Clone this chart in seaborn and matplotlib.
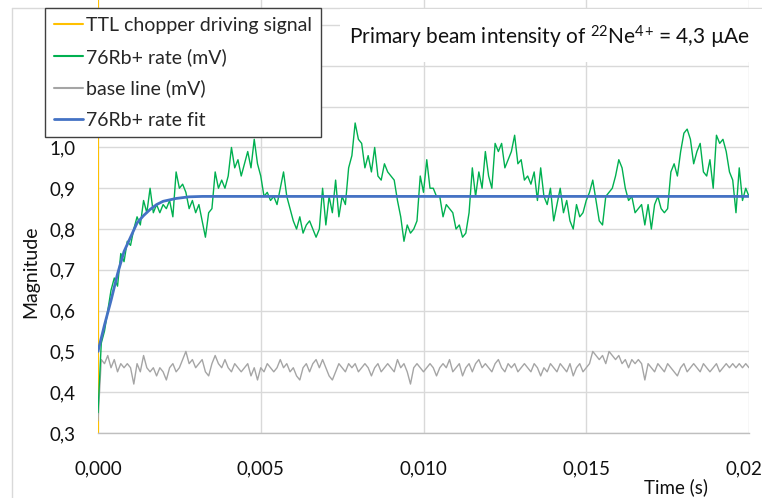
import numpy as np
import pandas as pd
import matplotlib
matplotlib.use("Agg")
import matplotlib.pyplot as plt
from matplotlib.ticker import FuncFormatter
from matplotlib.lines import Line2D
from matplotlib.patches import Rectangle
import seaborn as sns

# ---------------- data ----------------
dt = 0.0001  # sample spacing (s)

rate_mv = [
    0.35, 0.52, 0.55, 0.60, 0.65, 0.68, 0.66, 0.74, 0.72, 0.77,
    0.76, 0.80, 0.83, 0.81, 0.87, 0.84, 0.90, 0.84, 0.86, 0.84,
    0.86, 0.85, 0.87, 0.83, 0.94, 0.90, 0.91, 0.89, 0.85, 0.87,
    0.84, 0.86, 0.82, 0.78, 0.84, 0.85, 0.94, 0.90, 0.92, 0.90,
    0.93, 1.00, 0.95, 0.97, 0.93, 0.96, 0.99, 0.95, 1.02, 0.96,
    0.93, 0.88, 0.89, 0.87, 0.88, 0.86, 0.90, 0.94, 0.88, 0.85,
    0.82, 0.80, 0.83, 0.79, 0.81, 0.82, 0.80, 0.78, 0.80, 0.90,
    0.81, 0.88, 0.84, 0.92, 0.83, 0.88, 0.86, 0.95, 0.98, 1.06,
    1.02, 1.01, 0.95, 0.98, 0.94, 1.00, 0.93, 0.92, 0.96, 0.94,
    0.93, 0.92, 0.87, 0.83, 0.77, 0.81, 0.79, 0.80, 0.82, 0.93,
    0.89, 0.97, 0.90, 0.90, 0.88, 0.88, 0.83, 0.86, 0.85, 0.84,
    0.80, 0.81, 0.78, 0.79, 0.84, 0.95, 0.88, 0.94, 0.90, 0.99,
    0.93, 0.90, 1.01, 0.99, 1.01, 0.95, 0.97, 0.99, 1.03, 0.96,
    0.97, 0.92, 0.93, 0.91, 0.94, 0.87, 0.95, 0.88, 0.86, 0.90,
    0.82, 0.86, 0.90, 0.84, 0.87, 0.82, 0.80, 0.86, 0.83, 0.84,
    0.87, 0.89, 0.92, 0.87, 0.82, 0.81, 0.88, 0.89, 0.90, 0.93,
    0.97, 0.95, 0.90, 0.87, 0.88, 0.84, 0.85, 0.86, 0.81, 0.86,
    0.80, 0.86, 0.88, 0.85, 0.84, 0.85, 0.94, 0.96, 0.93, 0.99,
    1.035, 1.045, 1.02, 0.96, 0.99, 1.01, 0.94, 0.93, 0.97, 0.90,
    1.03, 1.01, 1.02, 0.99, 0.94, 0.92, 0.84, 0.95, 0.87, 0.90,
    0.88,
]

baseline_mv = [
    0.33, 0.48, 0.47, 0.49, 0.46, 0.48, 0.45, 0.47, 0.46, 0.47,
    0.46, 0.42, 0.47, 0.45, 0.49, 0.46, 0.45, 0.46, 0.44, 0.46,
    0.45, 0.43, 0.46, 0.47, 0.45, 0.46, 0.48, 0.50, 0.47, 0.48,
    0.46, 0.47, 0.48, 0.45, 0.44, 0.47, 0.49, 0.47, 0.46, 0.48,
    0.46, 0.45, 0.47, 0.46, 0.45, 0.46, 0.47, 0.44, 0.46, 0.43,
    0.46, 0.45, 0.47, 0.46, 0.45, 0.46, 0.48, 0.46, 0.47, 0.45,
    0.46, 0.44, 0.43, 0.46, 0.47, 0.45, 0.47, 0.48, 0.46, 0.48,
    0.46, 0.44, 0.43, 0.45, 0.47, 0.46, 0.45, 0.47, 0.46, 0.47,
    0.45, 0.46, 0.47, 0.46, 0.44, 0.46, 0.47, 0.45, 0.46, 0.47,
    0.46, 0.45, 0.48, 0.46, 0.47, 0.45, 0.42, 0.46, 0.47, 0.46,
    0.45, 0.46, 0.47, 0.46, 0.44, 0.46, 0.47, 0.46, 0.48, 0.45,
    0.46, 0.47, 0.44, 0.46, 0.47, 0.45, 0.47, 0.48, 0.46, 0.47,
    0.46, 0.45, 0.47, 0.48, 0.46, 0.45, 0.47, 0.46, 0.47, 0.45,
    0.46, 0.47, 0.46, 0.45, 0.47, 0.46, 0.44, 0.46, 0.45, 0.47,
    0.46, 0.45, 0.47, 0.46, 0.45, 0.47, 0.44, 0.46, 0.47, 0.45,
    0.46, 0.47, 0.50, 0.49, 0.48, 0.49, 0.47, 0.50, 0.49, 0.48,
    0.49, 0.47, 0.48, 0.46, 0.48, 0.47, 0.48, 0.47, 0.43, 0.47,
    0.46, 0.45, 0.47, 0.46, 0.45, 0.47, 0.46, 0.45, 0.44, 0.46,
    0.47, 0.45, 0.46, 0.47, 0.46, 0.45, 0.47, 0.46, 0.45, 0.46,
    0.47, 0.45, 0.46, 0.47, 0.46, 0.47, 0.46, 0.47, 0.46, 0.47,
    0.46,
]

fit_time = [0.0, 0.0002, 0.0004, 0.0006, 0.0008, 0.0010, 0.0012, 0.0014,
            0.0016, 0.0018, 0.0020, 0.0024, 0.0028, 0.0032, 0.0040, 0.0200]
fit_val = [0.50, 0.565, 0.625, 0.69, 0.745, 0.78, 0.815, 0.833,
           0.848, 0.86, 0.868, 0.875, 0.879, 0.88, 0.88, 0.88]

ttl_time = [0.0, 0.0, 0.02]
ttl_val = [0.0, 2.0, 2.0]

labels = ["TTL chopper driving signal", "76Rb+ rate (mV)",
          "base line (mV)", "76Rb+ rate fit"]
colors = ["#FFC000", "#00B050", "#A5A5A5", "#4472C4"]

x_ticks = [0.000, 0.005, 0.010, 0.015, 0.020]
y_ticks = [0.3, 0.4, 0.5, 0.6, 0.7, 0.8, 0.9, 1.0, 1.1, 1.2, 1.3]

# ---------------- styling ----------------
sns.set_style("white")
plt.rcParams["font.family"] = ["Lato", "DejaVu Sans"]
plt.rcParams["mathtext.fontset"] = "custom"
plt.rcParams["mathtext.rm"] = "Lato"
plt.rcParams["mathtext.default"] = "regular"

rate_time = np.arange(len(rate_mv)) * dt
base_time = np.arange(len(baseline_mv)) * dt

df_rate = pd.DataFrame({"t": rate_time, "v": rate_mv})
df_base = pd.DataFrame({"t": base_time, "v": baseline_mv})
df_fit = pd.DataFrame({"t": fit_time, "v": fit_val})
df_ttl = pd.DataFrame({"t": ttl_time, "v": ttl_val})

fig = plt.figure(figsize=(7.62, 4.98), dpi=100)
ax = fig.add_axes([98 / 762, 65 / 498, (749 - 98) / 762, 448.7 / 498])

sns.lineplot(data=df_base, x="t", y="v", ax=ax, color=colors[2], lw=1.0,
             estimator=None, sort=False, zorder=3)
sns.lineplot(data=df_rate, x="t", y="v", ax=ax, color=colors[1], lw=1.0,
             estimator=None, sort=False, zorder=4)
sns.lineplot(data=df_fit, x="t", y="v", ax=ax, color=colors[3], lw=2.0,
             estimator=None, sort=False, zorder=5)
sns.lineplot(data=df_ttl, x="t", y="v", ax=ax, color=colors[0], lw=1.5,
             estimator=None, sort=False, zorder=2)

ax.set_xlim(0, 0.02)
ax.set_ylim(0.3, 1.4)
ax.set_xticks(x_ticks)
ax.set_yticks(y_ticks)
ax.xaxis.set_major_formatter(FuncFormatter(lambda v, p: f"{v:.3f}".replace(".", ",")))
ax.yaxis.set_major_formatter(FuncFormatter(lambda v, p: f"{v:.1f}".replace(".", ",")))
ax.tick_params(axis="both", length=0, labelsize=13.5, colors="#111111")
ax.tick_params(axis="x", pad=20)
ax.tick_params(axis="y", pad=16)
ax.grid(True, color="#D9D9D9", lw=1.0)
ax.set_axisbelow(True)
for s in ["top", "right", "left"]:
    ax.spines[s].set_visible(False)
ax.spines["bottom"].set_color("#BFBFBF")
ax.spines["bottom"].set_linewidth(1.0)
ax.set_xlabel("")
ax.set_ylabel("")

fig.text(31 / 762, 1 - 272 / 498, "Magnitude", rotation=90, ha="center",
         va="center", fontsize=14, color="#111111")
fig.text(676 / 762, 1 - 487 / 498, "Time (s)", ha="center", va="center",
         fontsize=13.5, color="#111111")

# chart frame lines
fig.add_artist(Line2D([12 / 762, 12 / 762], [0, 1 - 8 / 498], color="#D9D9D9", lw=1.0))
fig.add_artist(Line2D([12 / 762, 1], [1 - 8 / 498, 1 - 8 / 498], color="#D9D9D9", lw=1.0))

# subtitle box
fig.add_artist(Rectangle((340 / 762, 1 - 62 / 498), 422 / 762, 53 / 498,
                         transform=fig.transFigure, facecolor="white",
                         edgecolor="none", zorder=10))
fig.text(550 / 762, 1 - 37 / 498,
         r"Primary beam intensity of $^{22}$Ne$^{4}$$^{+}$ = 4,3 µAe",
         ha="center", va="center", fontsize=15, color="#111111", zorder=11)

handles = [Line2D([], [], color=c, lw=1.5 if i != 3 else 2.0) for i, c in enumerate(colors)]
leg = fig.legend(handles, labels, loc="upper left",
                 bbox_to_anchor=(45 / 762, 1 - 8 / 498), frameon=True,
                 fancybox=False, framealpha=1, edgecolor="#404040",
                 fontsize=14, handlelength=1.5, handletextpad=0.15,
                 labelspacing=0.72, borderpad=0.45, borderaxespad=0)
leg.get_frame().set_linewidth(1.0)
leg.set_zorder(12)

fig.savefig("out.png", dpi=100)
